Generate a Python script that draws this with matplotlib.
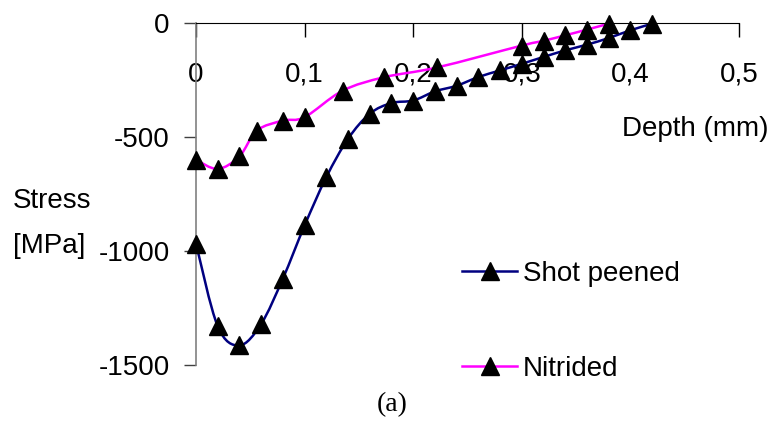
import matplotlib
matplotlib.use('Agg')
import matplotlib.pyplot as plt
import numpy as np
from matplotlib.path import Path
from matplotlib.patches import PathPatch
from matplotlib.lines import Line2D

# depth in mm, residual stress in MPa
shot_depth = [0, 0.02, 0.04, 0.06, 0.08, 0.1, 0.12, 0.14, 0.16, 0.18, 0.2,
              0.22, 0.24, 0.26, 0.28, 0.3, 0.32, 0.34, 0.36, 0.38, 0.4, 0.42]
shot_stress = [-968, -1330, -1414, -1320, -1121, -888, -676, -508, -398, -351, -340,
               -300, -275, -237, -208, -179, -149, -120, -95, -66, -32, -3]

nit_depth = [0, 0.02, 0.04, 0.056, 0.08, 0.1, 0.135, 0.173, 0.222,
             0.3, 0.32, 0.34, 0.36, 0.38]
nit_stress = [-600, -640, -585, -472, -428, -413, -297, -238, -195,
              -99, -78, -54, -29, -3]

x_ticks = [0, 0.1, 0.2, 0.3, 0.4, 0.5]
x_labels = ['0', '0,1', '0,2', '0,3', '0,4', '0,5']
y_ticks = [0, -500, -1000, -1500]

plt.rcParams['font.family'] = ['Liberation Sans', 'DejaVu Sans']
FS = 20


def smooth_path(x, y, t=1/6):
    # excel-like smoothed line: cubic bezier segments (catmull-rom control points)
    x = np.asarray(x, float)
    y = np.asarray(y, float)
    verts = [(x[0], y[0])]
    codes = [Path.MOVETO]
    n = len(x)
    for i in range(n - 1):
        i0 = max(i - 1, 0)
        i3 = min(i + 2, n - 1)
        c1 = (x[i] + (x[i + 1] - x[i0]) * t, y[i] + (y[i + 1] - y[i0]) * t)
        c2 = (x[i + 1] - (x[i3] - x[i]) * t, y[i + 1] - (y[i3] - y[i]) * t)
        verts += [c1, c2, (x[i + 1], y[i + 1])]
        codes += [Path.CURVE4] * 3
    return Path(verts, codes)


fig = plt.figure(figsize=(7.7, 4.21), dpi=100)
ax = fig.add_axes([196/770, 1 - 365/421, (739 - 196)/770, (365 - 23)/421])

ax.set_xlim(0, 0.5)
ax.set_ylim(-1500, 0)

for xs, ys, col in [(shot_depth, shot_stress, '#000080'), (nit_depth, nit_stress, '#ff00ff')]:
    ax.add_patch(PathPatch(smooth_path(xs, ys), fill=False, edgecolor=col, lw=1.8,
                           clip_on=False, zorder=2))
    ax.plot(xs, ys, ls='none', marker='^', ms=13, color='black', clip_on=False, zorder=3)

# axes look
for s in ['top', 'right']:
    ax.spines[s].set_visible(False)
ax.spines['bottom'].set_position(('data', 0))
ax.spines['bottom'].set_color('black')
ax.spines['left'].set_color('#808080')
ax.spines['left'].set_linewidth(1.2)

ax.set_xticks(x_ticks)
ax.set_xticklabels(x_labels)
ax.set_yticks(y_ticks)
ax.set_yticklabels([str(v) for v in y_ticks])
ax.tick_params(axis='x', direction='out', length=10, width=1, pad=18, labelsize=FS)
ax.tick_params(axis='y', direction='out', length=9, width=1, color='#404040',
               pad=10, labelsize=FS)

fig.text(622/770, 1 - 129/421, 'Depth (mm)', fontsize=FS, ha='left', va='center')
fig.text(13/770, 1 - 201/421, 'Stress', fontsize=FS, ha='left', va='center')
fig.text(13/770, 1 - 246/421, '[MPa]', fontsize=FS, ha='left', va='center')
fig.text(392/770, 1 - 405/421, '(a)', fontsize=20, ha='center', va='center',
         family='Liberation Serif')

handles = [Line2D([], [], color='#000080', lw=1.8, marker='^', ms=13,
                  mfc='black', mec='black'),
           Line2D([], [], color='#ff00ff', lw=1.8, marker='^', ms=13,
                  mfc='black', mec='black')]
fig.legend(handles, ['Shot peened', 'Nitrided'], loc='upper left',
           bbox_to_anchor=(462/770, 1 - 261/421), frameon=False, fontsize=FS,
           handlelength=1.98, handletextpad=0.22, labelspacing=2.48,
           borderpad=0, borderaxespad=0)

fig.savefig('out.png', dpi=100)
